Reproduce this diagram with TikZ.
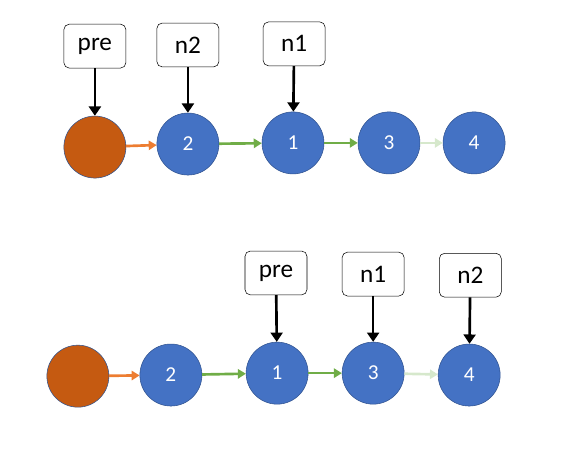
\documentclass[tikz,border=0pt]{standalone}
\usepackage{fontspec}
\setmainfont{Carlito}
\usepackage{tikz}
\usetikzlibrary{arrows.meta}
\usetikzlibrary{positioning}
\definecolor{nodeblue}{HTML}{4472C4}
\definecolor{nodeedge}{HTML}{2F528F}
\definecolor{headfill}{HTML}{C55A11}
\definecolor{linkorange}{HTML}{ED7D31}
\definecolor{linkgreen}{HTML}{70AD47}
\definecolor{linkpale}{HTML}{D6E8CC}
\tikzstyle{lnode}=[circle,draw=nodeedge,fill=nodeblue,minimum size=1.64cm,inner sep=0pt,text=white,font=\fontsize{16}{18}\selectfont]
\tikzstyle{dummy}=[lnode,fill=headfill]
\tikzstyle{ptrbox}=[rectangle,rounded corners=4pt,draw=black,thin,minimum width=1.64cm,minimum height=1.16cm,font=\fontsize{19}{21}\selectfont]
\tikzstyle{ptr}=[-{Triangle[length=7pt,width=9pt]},draw=black,line width=2pt]
\tikzstyle{link}=[-{Triangle[length=6pt,width=7pt]},line width=2pt]

\begin{document}
\begin{tikzpicture}
    \useasboundingbox (0,0) rectangle (15.13,-12.30);
    % before the swap
    \node[dummy] (t0) at (2.51,-3.89) {};
    \node[lnode] (t2) at (4.97,-3.81) {2};
    \node[lnode] (t1) at (7.75,-3.78) {1};
    \node[lnode] (t3) at (10.29,-3.78) {3};
    \node[lnode] (t4) at (12.54,-3.78) {4};
    \node[ptrbox] (tpre) at (2.51,-1.22) {pre};
    \node[ptrbox] (tn2) at (4.97,-1.19) {n2};
    \node[ptrbox] (tn1) at (7.78,-1.16) {n1};
    \draw[link,linkorange] (t0) -- (t2);
    \draw[link,linkgreen] (t2) -- (t1);
    \draw[link,linkgreen] (t1) -- (t3);
    \draw[link,linkpale] (t3) -- (t4);
    \draw[ptr] (tpre) -- (t0);
    \draw[ptr] (tn2) -- (t2);
    \draw[ptr] (tn1) -- (t1);
    % after the swap
    \node[dummy] (b0) at (2.06,-9.95) {};
    \node[lnode] (b2) at (4.52,-9.92) {2};
    \node[lnode] (b1) at (7.33,-9.87) {1};
    \node[lnode] (b3) at (9.87,-9.87) {3};
    \node[lnode] (b4) at (12.41,-9.92) {4};
    \node[ptrbox] (bpre) at (7.30,-7.22) {pre};
    \node[ptrbox] (bn1) at (9.87,-7.25) {n1};
    \node[ptrbox] (bn2) at (12.44,-7.28) {n2};
    \draw[link,linkorange] (b0) -- (b2);
    \draw[link,linkgreen] (b2) -- (b1);
    \draw[link,linkgreen] (b1) -- (b3);
    \draw[link,linkpale] (b3) -- (b4);
    \draw[ptr] (bpre) -- (b1);
    \draw[ptr] (bn1) -- (b3);
    \draw[ptr] (bn2) -- (b4);
\end{tikzpicture}
\end{document}
